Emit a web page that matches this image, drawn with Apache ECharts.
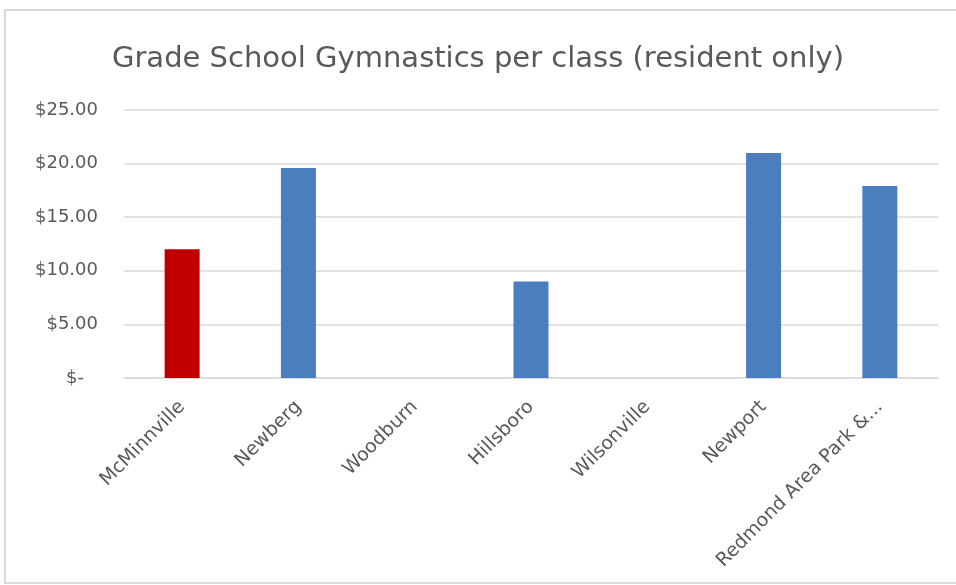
<!DOCTYPE html>
<html>
<head>
<meta charset="utf-8">
<script src="https://cdn.jsdelivr.net/npm/echarts@6/dist/echarts.min.js"></script>
<style>
  html, body { margin: 0; padding: 0; background: #fff; }
  #chart { width: 956px; height: 585px; }
</style>
</head>
<body>
<div id="chart"></div>
<script>
const titleText = "Grade School Gymnastics per class (resident only)";
const cities = ["McMinnville", "Newberg", "Woodburn", "Hillsboro", "Wilsonville", "Newport", "Redmond Area Park &..."];
const prices = [12, 19.6, null, 9, null, 21, 17.9];
const barColors = ["#C00000", "#4A7EBF", "#4A7EBF", "#4A7EBF", "#4A7EBF", "#4A7EBF", "#4A7EBF"];
const yTicks = [0, 5, 10, 15, 20, 25];

const textColor = "#595959";
const font = "'DejaVu Sans', sans-serif";

const chart = echarts.init(document.getElementById("chart"));

chart.setOption({
    animation: false,
    backgroundColor: "#fff",
    graphic: [
        {
            type: "rect",
            shape: { x: 5, y: 10, width: 960, height: 573 },
            style: { fill: "none", stroke: "#d9d9d9", lineWidth: 2 },
            silent: true
        }
    ],
    title: {
        text: titleText,
        left: "center",
        top: 40,
        textStyle: {
            fontFamily: font,
            fontSize: 29,
            fontWeight: "normal",
            color: textColor
        }
    },
    grid: {
        left: 124,
        right: 18,
        top: 110,
        bottom: 207,
        containLabel: false
    },
    xAxis: {
        type: "category",
        data: cities,
        axisLine: { lineStyle: { color: "#d9d9d9", width: 1.5 } },
        axisTick: { show: false },
        axisLabel: {
            rotate: 45,
            interval: 0,
            margin: 26,
            fontFamily: font,
            fontSize: 19,
            color: textColor
        }
    },
    yAxis: {
        type: "value",
        min: yTicks[0],
        max: yTicks[yTicks.length - 1],
        interval: 5,
        axisLine: { show: false },
        axisTick: { show: false },
        splitLine: { lineStyle: { color: "#d9d9d9", width: 1.5 } },
        axisLabel: {
            margin: 26,
            fontFamily: font,
            fontSize: 18,
            color: textColor,
            formatter(v) {
                if (v === 0) {
                    return "{z|$-}";
                }
                return "$" + v.toFixed(2);
            },
            rich: {
                z: {
                    fontFamily: font,
                    fontSize: 18,
                    color: textColor,
                    padding: [0, 14, 0, 0]
                }
            }
        }
    },
    series: [
        {
            type: "bar",
            barWidth: 35,
            data: prices.map((v, i) => ({
                value: v,
                itemStyle: { color: barColors[i] }
            }))
        }
    ]
});
</script>
</body>
</html>
